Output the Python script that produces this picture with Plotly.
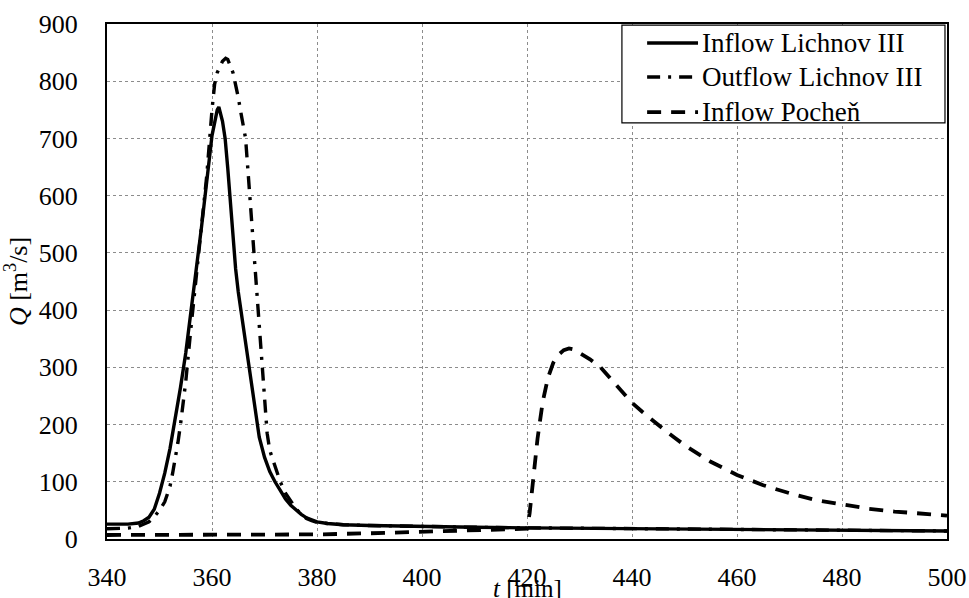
import plotly.graph_objects as go

# Inflow into Lichnov III reservoir
t_in = [340, 344, 346, 347, 348, 349, 350, 351, 352, 353, 354, 355, 356, 357, 358, 359, 360,
        361, 361.3, 362, 362.5, 363, 363.5, 364, 364.5, 365, 365.5, 366, 367, 368, 369, 370, 371,
        372, 373, 374, 375, 376, 377, 378, 379, 380, 382, 385, 390, 400, 410, 420, 440, 460, 480,
        500]
q_in = [26, 26, 28, 32, 38, 52, 80, 115, 158, 208, 265, 325, 395, 465, 545, 625, 705,
        750, 755, 730, 700, 648, 588, 522, 472, 432, 400, 368, 305, 240, 178, 143, 118,
        100, 84, 70, 59, 50, 43, 37, 33, 30, 27, 25, 23.5, 21.5, 20.5, 19.5, 18, 16.5, 15,
        14]

# Outflow from Lichnov III reservoir
t_out = [340, 344, 346, 348, 349, 350, 351, 352, 352.5, 353, 353.5, 354, 355, 356, 357, 358,
         359, 360, 360.5, 361, 362, 362.6, 363, 364, 364.5, 365, 365.5, 366.4, 367, 367.5,
         368, 368.5, 369, 369.5, 370, 370.5, 371, 372, 373, 374, 375, 376, 377, 378, 379,
         380, 382, 385, 390, 400, 410, 420, 440, 460, 480, 500]
q_out = [18, 19, 22, 30, 39, 50, 65, 92, 115, 140, 168, 200, 275, 370, 455, 540,
         635, 750, 795, 815, 835, 840, 838, 815, 795, 772, 745, 700, 625, 560,
         495, 435, 370, 300, 240, 185, 155, 125, 100, 80, 66, 53, 43, 36, 32,
         29, 27, 25, 23.5, 21.5, 20.5, 19.5, 18, 16.5, 15, 14]

# Inflow at Pocheň
t_po = [340, 350, 360, 370, 380, 390, 400, 410, 418, 420, 420.5, 421, 421.5, 422, 422.5, 423,
        424, 425, 426, 427, 428, 429, 430, 432, 434, 436, 438, 440, 442, 444, 446, 448, 450,
        455, 460, 465, 470, 475, 480, 485, 490, 495, 500]
q_po = [7, 7, 7, 7, 8, 10, 13, 15, 17, 18, 45, 90, 135, 175, 208, 240,
        282, 308, 322, 330, 333, 331, 325, 314, 300, 280, 259, 238, 222, 206, 192, 178, 164,
        135, 112, 94, 80, 68, 60, 53, 48, 44, 41]

x_ticks = [340, 360, 380, 400, 420, 440, 460, 480, 500]
y_ticks = [0, 100, 200, 300, 400, 500, 600, 700, 800, 900]

series_names = ["Inflow Lichnov III", "Outflow Lichnov III", "Inflow Pocheň"]

FONT = "Liberation Serif, Times New Roman, DejaVu Serif, serif"
BIG = 26

styles = [
    dict(color="black", width=3.4),
    dict(color="black", width=3.4, dash="13px,8px,3px,8px"),
    dict(color="black", width=3.8, dash="14px,10px"),
]

fig = go.Figure()
for tt, qq, name, st in zip([t_in, t_out, t_po], [q_in, q_out, q_po], series_names, styles):
    fig.add_trace(go.Scatter(x=tt, y=qq, mode="lines", name=name, line=st, showlegend=False))

axis_common = dict(
    showline=True, linecolor="black", linewidth=2, mirror=True,
    showgrid=True, gridcolor="#8c8c8c", gridwidth=1, griddash="dot",
    zeroline=False, ticks="", automargin=False,
    tickfont=dict(family=FONT, size=BIG, color="black"),
)

fig.update_xaxes(range=[340, 500], tickvals=x_ticks, ticklabelstandoff=14, **axis_common)
fig.update_yaxes(range=[0, 900], tickvals=y_ticks, ticklabelstandoff=22,
                 title=dict(text="<i>Q</i> [m<sup>3</sup>/s]",
                            font=dict(family=FONT, size=BIG, color="black"), standoff=6),
                 **axis_common)

# time axis title sits low, just under the tick labels
fig.add_annotation(text="<i>t</i> [min]", xref="paper", yref="paper", x=0.5, y=-0.096,
                   xanchor="center", yanchor="middle", showarrow=False,
                   font=dict(family=FONT, size=25, color="black"))

# boxed key in the upper right corner of the plot
box_x0, box_x1, box_y0, box_y1 = 0.613, 0.9976, 0.808, 0.998
fig.add_shape(type="rect", xref="paper", yref="paper", x0=box_x0, x1=box_x1, y0=box_y0, y1=box_y1,
              fillcolor="white", line=dict(color="black", width=1.2), layer="above")
row_y = [0.963, 0.897, 0.829]
for yy, name, st in zip(row_y, series_names, styles):
    fig.add_shape(type="line", xref="paper", yref="paper", x0=0.643, x1=0.7036, y0=yy, y1=yy,
                  line=st, layer="above")
    fig.add_annotation(text=name, xref="paper", yref="paper", x=0.706, y=yy,
                       xanchor="left", yanchor="middle", showarrow=False,
                       font=dict(family=FONT, size=27, color="black"))

fig.update_layout(
    width=969, height=598,
    margin=dict(l=107, r=22, t=24, b=59),
    plot_bgcolor="white", paper_bgcolor="white",
    font=dict(family=FONT, color="black"),
    showlegend=False,
)

fig.write_html("out.html")
